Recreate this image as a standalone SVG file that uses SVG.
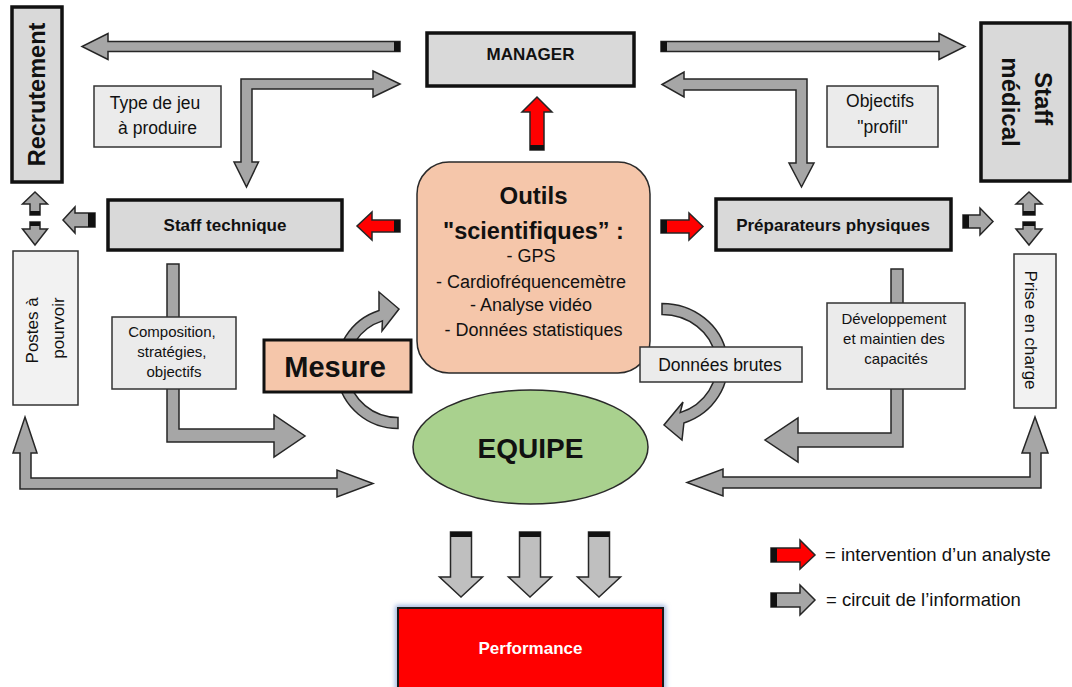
<svg xmlns="http://www.w3.org/2000/svg" width="1072" height="687" viewBox="0 0 1072 687">
  <style>
    .ga { fill: #a6a6a6; stroke: #262626; stroke-width: 1.5; stroke-linejoin: miter; }
    .la { fill: #bfbfbf; stroke: #262626; stroke-width: 1.5; }
    .ra { fill: #ff0000; stroke: #262626; stroke-width: 1.5; }
    .tail { fill: #111111; }
    .boxd { fill: #d9d9d9; stroke: #111111; stroke-width: 3.5; }
    .boxl { fill: #ebebeb; stroke: #333333; stroke-width: 1.5; }
    .boxp { fill: #f2f2f2; stroke: #333333; stroke-width: 1.5; }
    .peach { fill: #f5c6aa; }
    text { font-family: "Liberation Sans", Arial, sans-serif; fill: #111111; }
    .b { font-weight: bold; }
    .c { text-anchor: middle; }
  </style>
  <defs>
    <filter id="glow" x="-10%" y="-30%" width="120%" height="160%">
      <feGaussianBlur stdDeviation="2.5"/>
    </filter>
  </defs>

  <rect width="1072" height="687" fill="#ffffff"/>

  <!-- connectors -->
  <g id="connectors">
    <!-- MANAGER -> Recrutement -->
    <polygon class="ga" points="400,41.5 108,41.5 108,33.5 82,46.5 108,59.5 108,51.5 400,51.5"/>
    <rect class="tail" x="394" y="41.5" width="6" height="10"/>
    <!-- MANAGER <-> Staff technique -->
    <polygon class="ga" points="400,84 373,97 373,89 252,89 252,162 258.5,162 246.5,187 234,162 241,162 241,79 373,79 373,71"/>
    <!-- MANAGER -> Staff medical -->
    <polygon class="ga" points="661,41.5 939,41.5 939,33.5 965,46.5 939,59.5 939,51.5 661,51.5"/>
    <rect class="tail" x="661" y="41.5" width="6" height="10"/>
    <!-- MANAGER <-> Preparateurs -->
    <polygon class="ga" points="662,84.5 684,72 684,79 807,79 807,163 814,163 801.5,187 789,163 796,163 796,90 684,90 684,97"/>

    <!-- analyst arrows -->
    <polygon class="ra" points="530,150 530,112 522,112 537,97 552,112 544,112 544,150"/>
    <rect class="tail" x="530" y="145" width="14" height="5"/>
    <polygon class="ra" points="400,220 372,220 372,212 357,226 372,240 372,232 400,232"/>
    <rect class="tail" x="394" y="220" width="6" height="12"/>
    <polygon class="ra" points="661,220 689,220 689,213 703,226.5 689,240 689,233 661,233"/>
    <rect class="tail" x="661" y="220" width="6" height="13"/>

    <!-- Staff technique -> Postes, Preparateurs -> Prise en charge -->
    <polygon class="ga" points="95,213 75,213 75,207 63,220 75,233 75,227 95,227"/>
    <rect class="tail" x="88" y="213" width="7" height="14"/>
    <polygon class="ga" points="963,215 980,215 980,208 993,221.5 980,235 980,228 963,228"/>
    <rect class="tail" x="963" y="215" width="6" height="13"/>

    <!-- Recrutement <-> Postes a pourvoir -->
    <polygon class="ga" points="35,192 47.5,204 40,204 40,215 30,215 30,204 22.5,204"/>
    <rect class="tail" x="30" y="211" width="10" height="4"/>
    <polygon class="ga" points="30,222 40,222 40,229 47.5,229 35,245 22.5,229 30,229"/>
    <rect class="tail" x="30" y="222" width="10" height="4"/>
    <!-- Staff medical <-> Prise en charge -->
    <polygon class="ga" points="1029,192 1042,204 1035,204 1035,215 1023,215 1023,204 1016,204"/>
    <rect class="tail" x="1023" y="211" width="12" height="4"/>
    <polygon class="ga" points="1023,222 1035,222 1035,229 1042,229 1029,245 1016,229 1023,229"/>
    <rect class="tail" x="1023" y="222" width="12" height="4"/>

    <!-- Staff technique -> EQUIPE -->
    <polygon class="ga" points="167,264 179,264 179,429 274,429 274,415 305,436 274,457 274,442 167,442"/>
    <!-- Preparateurs -> EQUIPE -->
    <polygon class="ga" points="891,269 903,269 903,447 798,447 798,462 765,440 798,418 798,433 891,433"/>

    <!-- Postes a pourvoir <-> EQUIPE -->
    <polygon class="ga" points="25,417 37,453 31,453 31,478 337,478 337,470 373,483.5 337,497 337,489 20,489 20,453 13,453"/>
    <!-- Prise en charge <-> EQUIPE -->
    <polygon class="ga" points="1035,417 1048,453 1041,453 1041,488 723,488 723,496 687,482.5 723,469 723,477 1030,477 1030,453 1022,453"/>

    <!-- Mesure loop -->
    <path class="ga" d="M398,428.5 A61.5,60.5 0 0 1 379,310.5 L379,292 L399,309 L382,331 L382.4,320.9 A50.5,49.5 0 0 0 398,417.5 Z"/>
    <!-- raw data loop -->
    <path class="ga" d="M662,303.5 A65.5,61.5 0 0 1 683.9,423 L682,440 L664,425 L683,402 L680.2,412.6 A54.5,50.5 0 0 0 662,314.5 Z"/>

    <!-- EQUIPE -> Performance -->
    <polygon class="la" points="450.5,532 471.5,532 471.5,577 482.5,577 461,597 439.5,577 450.5,577"/>
    <rect class="tail" x="450.5" y="532" width="21" height="5"/>
    <polygon class="la" points="519.5,532 540.5,532 540.5,577 551.5,577 530,597 508.5,577 519.5,577"/>
    <rect class="tail" x="519.5" y="532" width="21" height="5"/>
    <polygon class="la" points="588.5,532 609.5,532 609.5,577 620.5,577 599,597 577.5,577 588.5,577"/>
    <rect class="tail" x="588.5" y="532" width="21" height="5"/>
  </g>

  <!-- nodes -->
  <g id="manager">
    <rect class="boxd" x="427" y="33" width="207" height="53" stroke-width="4"/>
    <text class="b c" x="530.5" y="60" font-size="17">MANAGER</text>
  </g>
  <g id="recrutement">
    <rect class="boxd" x="12" y="7" width="50" height="175"/>
    <text class="b c" transform="translate(45,94.5) rotate(-90)" x="0" y="0" font-size="23.5">Recrutement</text>
  </g>
  <g id="staff-medical">
    <rect class="boxd" x="981" y="23" width="89" height="158"/>
    <text class="b c" transform="translate(1035,102) rotate(90)" font-size="24">
      <tspan x="0" y="0">Staff</tspan>
      <tspan x="0" y="33">médical</tspan>
    </text>
  </g>
  <g id="type-de-jeu">
    <rect class="boxl" x="94" y="86" width="127" height="61"/>
    <text class="c" x="157.5" font-size="17.5">
      <tspan x="157.5" y="109">Type de jeu</tspan>
      <tspan x="157.5" y="134">à produire</tspan>
    </text>
  </g>
  <g id="objectifs-profil">
    <rect class="boxl" x="827" y="86" width="111" height="61"/>
    <text class="c" font-size="17.5">
      <tspan x="882.5" y="107">Objectifs</tspan>
      <tspan x="882.5" y="133">"profil"</tspan>
    </text>
  </g>
  <g id="staff-technique">
    <rect class="boxd" x="108" y="200" width="234" height="50" stroke-width="3"/>
    <text class="b c" x="225" y="231" font-size="17">Staff technique</text>
  </g>
  <g id="preparateurs">
    <rect class="boxd" x="716" y="199" width="235" height="51" stroke-width="3"/>
    <text class="b c" x="833" y="231" font-size="17">Préparateurs physiques</text>
  </g>
  <g id="outils">
    <rect class="peach" x="417" y="162" width="233" height="211" rx="32" stroke="#2a2a2a" stroke-width="1.5"/>
    <text class="b c" x="533.5" y="204" font-size="24">Outils</text>
    <text class="b c" x="533.5" y="239" font-size="23.5">"scientifiques” :</text>
    <text class="c" font-size="18">
      <tspan x="533.5" y="262">- GPS</tspan>
      <tspan x="533.5" y="288">- Cardiofréquencemètre</tspan>
      <tspan x="533.5" y="311">- Analyse vidéo</tspan>
      <tspan x="533.5" y="336">- Données statistiques</tspan>
    </text>
  </g>
  <g id="postes">
    <rect class="boxp" x="13" y="251" width="65" height="154"/>
    <text class="c" transform="translate(45,328) rotate(-90)" font-size="17">
      <tspan x="0" y="-7">Postes à</tspan>
      <tspan x="0" y="19">pourvoir</tspan>
    </text>
  </g>
  <g id="prise-en-charge">
    <rect class="boxp" x="1014" y="254" width="42" height="154"/>
    <text class="c" transform="translate(1035,330) rotate(90)" x="0" y="0" font-size="17">
      <tspan x="0" y="10">Prise en charge</tspan>
    </text>
  </g>
  <g id="composition">
    <rect class="boxl" x="112" y="317" width="124" height="72"/>
    <text class="c" font-size="15">
      <tspan x="174" y="337">Composition,</tspan>
      <tspan x="174" y="357">stratégies,</tspan>
      <tspan x="174" y="377">objectifs</tspan>
    </text>
  </g>
  <g id="developpement">
    <rect class="boxl" x="827" y="303" width="138" height="86"/>
    <text class="c" font-size="15">
      <tspan x="896" y="324">Développement</tspan>
      <tspan x="896" y="344">et maintien des</tspan>
      <tspan x="896" y="364">capacités</tspan>
    </text>
  </g>
  <g id="mesure">
    <rect class="peach" x="264" y="340" width="147" height="52" stroke="#111111" stroke-width="3"/>
    <text class="b c" x="335" y="377" font-size="29">Mesure</text>
  </g>
  <g id="donnees-brutes">
    <rect class="boxl" x="640" y="347" width="162" height="35"/>
    <text class="c" x="720" y="371" font-size="17.5">Données brutes</text>
  </g>
  <g id="equipe">
    <ellipse cx="530.5" cy="447" rx="117.5" ry="57" fill="#a9d18e" stroke="#2a2a2a" stroke-width="1.5"/>
    <text class="b c" x="530.5" y="458" font-size="28">EQUIPE</text>
  </g>
  <g id="performance">
    <rect x="398" y="608" width="265" height="90" fill="none" stroke="#8eaadb" stroke-width="5" filter="url(#glow)"/>
    <rect x="398" y="608" width="265" height="90" fill="#ff0000" stroke="#1a1a1a" stroke-width="2"/>
    <text class="b c" x="530.5" y="654" font-size="17" style="fill:#ffffff">Performance</text>
  </g>

  <!-- legend -->
  <g id="legend">
    <polygon class="ra" points="771,548 800,548 800,540 815,555 800,569 800,562 771,562"/>
    <rect class="tail" x="771" y="548" width="6" height="14"/>
    <text x="825" y="561" font-size="18.5">= intervention d’un analyste</text>
    <polygon class="ga" points="771,593 800,593 800,585 815,600 800,615 800,607 771,607"/>
    <rect class="tail" x="771" y="593" width="6" height="14"/>
    <text x="826" y="606" font-size="18.5">= circuit de l’information</text>
  </g>
</svg>
